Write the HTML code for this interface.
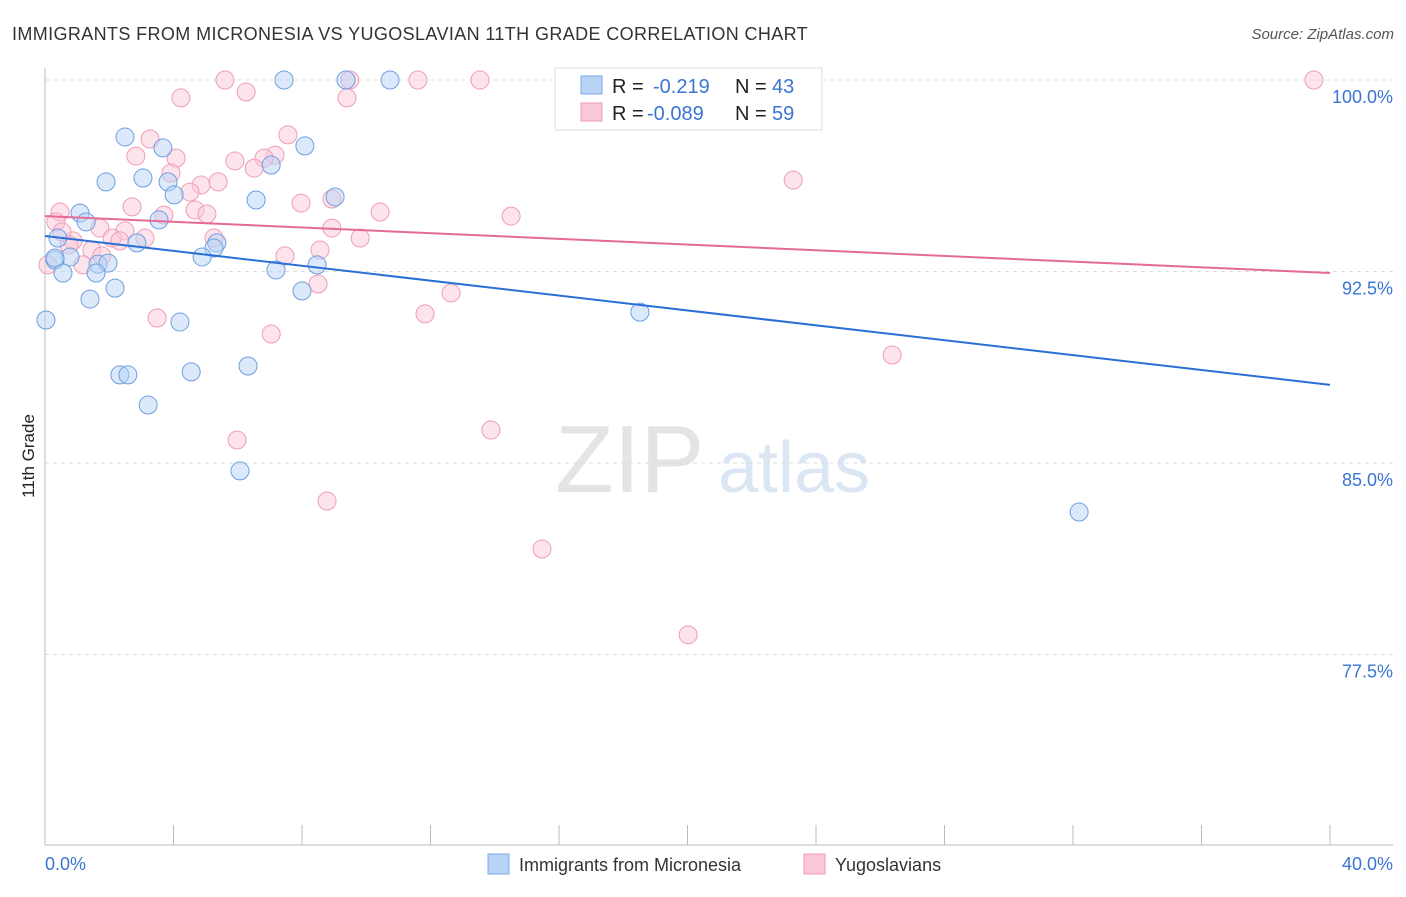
<!DOCTYPE html>
<html><head><meta charset="utf-8"><style>
body{margin:0;background:#fff;font-family:"Liberation Sans",sans-serif;}
svg text{font-family:"Liberation Sans",sans-serif;}
</style></head><body>
<svg id="chart" width="1406" height="892" viewBox="0 0 1406 892">
<text x="12" y="40" font-size="18" letter-spacing="0.38" fill="#333">IMMIGRANTS FROM MICRONESIA VS YUGOSLAVIAN 11TH GRADE CORRELATION CHART</text>
<text x="1394" y="39" font-size="15" font-style="italic" fill="#555" text-anchor="end">Source: ZipAtlas.com</text>
<g>
<text x="555" y="492" font-size="96" font-family="Liberation Serif" fill="#e4e4e4">ZIP</text>
<text x="718" y="492" font-size="72" fill="#dbe6f5">atlas</text>
</g>
<g id="grid"></g>
<line x1="45" y1="68" x2="45" y2="845" stroke="#bbb"/>
<line x1="45" y1="845" x2="1393" y2="845" stroke="#bbb"/>
<g id="ticks"></g>
<text transform="translate(34,456) rotate(-90)" font-size="17" fill="#222" text-anchor="middle">11th Grade</text>
<g id="pts"></g>
<g id="lines"></g>
<g>
<rect x="555" y="68" width="267" height="62" fill="#fff" stroke="#ddd"/>
<rect x="581" y="76" width="21" height="18" fill="#b7d3f5" stroke="#7fa9e6"/>
<rect x="581" y="103" width="21" height="18" fill="#fbc8d7" stroke="#ef9db7"/>
<text x="612" y="93" font-size="20" fill="#222">R = <tspan x="653" fill="#3a75d4"> -0.219</tspan><tspan x="735" fill="#222">N = </tspan><tspan x="772" fill="#3a75d4">43</tspan></text>
<text x="612" y="120" font-size="20" fill="#222">R = <tspan x="647" fill="#3a75d4">-0.089</tspan><tspan x="735" fill="#222">N = </tspan><tspan x="772" fill="#3a75d4">59</tspan></text>
</g>
<g>
<rect x="488" y="854" width="21" height="20" fill="#b7d3f5" stroke="#7fa9e6"/>
<text x="519" y="871" font-size="18" fill="#333">Immigrants from Micronesia</text>
<rect x="804" y="854" width="21" height="20" fill="#fbc8d7" stroke="#ef9db7"/>
<text x="835" y="871" font-size="18" fill="#333">Yugoslavians</text>
</g>
</svg>
<script>
const yTicks=[100,92.5,85,77.5];
const yTickLabels=["100.0%","92.5%","85.0%","77.5%"];
const xTickCount=10;
const xLabels=["0.0%","40.0%"];
const blueX=[7.44,9.37,10.74,2.49,3.67,8.09,1.90,3.05,3.83,7.04,4.02,6.57,9.03,1.09,1.28,3.55,0.40,2.86,5.35,5.26,4.89,0.78,0.31,1.65,1.96,0.56,1.59,7.19,8.47,2.18,1.40,8.00,0.03,4.20,18.52,6.32,2.33,2.58,4.55,3.21,6.07,32.19,0.31];
const blueY=[100,100,100,97.77,97.34,97.42,96.01,96.16,96.01,96.67,95.50,95.30,95.42,94.79,94.44,94.52,93.81,93.62,93.62,93.42,93.07,93.07,92.95,92.79,92.83,92.44,92.44,92.56,92.76,91.85,91.42,91.74,90.60,90.52,90.91,88.80,88.45,88.45,88.57,87.27,84.69,83.08,93.03];
const pinkX=[5.60,9.49,11.61,13.54,39.50,4.23,6.26,9.40,3.27,7.56,2.83,4.08,7.16,6.82,5.91,6.51,3.92,4.86,5.39,4.51,7.97,8.93,23.29,0.47,0.34,2.71,3.70,4.67,5.04,10.43,14.51,1.71,2.49,2.09,3.11,0.87,0.75,1.46,2.33,5.26,8.93,9.81,8.56,7.47,1.18,8.50,12.64,11.83,3.49,7.04,26.37,5.98,13.88,8.78,15.47,20.02,0.09,0.53,1.77];
const pinkY=[100,100,100,100,100,99.30,99.53,99.30,97.69,97.85,97.02,96.94,97.06,96.94,96.83,96.55,96.36,95.89,96.01,95.61,95.18,95.34,96.08,94.83,94.44,95.03,94.71,94.91,94.75,94.83,94.67,94.20,94.09,93.81,93.81,93.70,93.54,93.34,93.70,93.81,94.20,93.81,93.34,93.11,92.76,92.01,91.66,90.84,90.68,90.05,89.23,85.90,86.29,83.51,81.63,78.27,92.76,94.05,93.11];
const blueTrend=[93.89,88.06];
const pinkTrend=[94.67,92.44];
const NS="http://www.w3.org/2000/svg";
const xs=v=>45+v/40*1285;
const ys=v=>80+(100-v)/7.5*191.5;
function mk(tag,attrs,parent){const e=document.createElementNS(NS,tag);for(const k in attrs)e.setAttribute(k,attrs[k]);document.getElementById(parent).appendChild(e);return e;}
yTicks.forEach((t,i)=>{
 const l=mk('line',{x1:45,x2:1393,y1:ys(t),y2:ys(t),stroke:'#ddd','stroke-dasharray':'4,4'},'grid');
 
 
 const tx=mk('text',{x:1393,y:ys(t)+23,'font-size':18,fill:'#3a75d4','text-anchor':'end'},'ticks');
 tx.textContent=yTickLabels[i];
 
 
});
for(let i=0;i<=xTickCount;i++){
 const v=i*40/xTickCount;
 const l=mk('line',{x1:xs(v),x2:xs(v),y1:825,y2:845,stroke:'#bbb'},'ticks');
 
 
}
xLabels.forEach((s,i)=>{
 const tx=mk('text',{x:i?1393:45,y:870,'font-size':18,fill:'#3a75d4','text-anchor':i?'end':'start'},'ticks');
 tx.textContent=s;
 
 
});
function pts(X,Y,fill,stroke,name){X.forEach((x,i)=>{
 const c=mk('circle',{cx:xs(x),cy:ys(Y[i]),r:9,fill:fill,'fill-opacity':0.5,stroke:stroke,'stroke-width':1},'pts');
 
 
});}
pts(pinkX,pinkY,'#fbc8d7','#ef9db7','yugoslavian-point');
pts(blueX,blueY,'#b7d3f5','#6f9fe0','micronesia-point');
const b=mk('line',{x1:xs(0),y1:ys(blueTrend[0]),x2:xs(40),y2:ys(blueTrend[1]),stroke:'#2a6fd6','stroke-width':2},'lines');


const p=mk('line',{x1:xs(0),y1:ys(pinkTrend[0]),x2:xs(40),y2:ys(pinkTrend[1]),stroke:'#e56b95','stroke-width':2},'lines');


</script>
</body></html>
